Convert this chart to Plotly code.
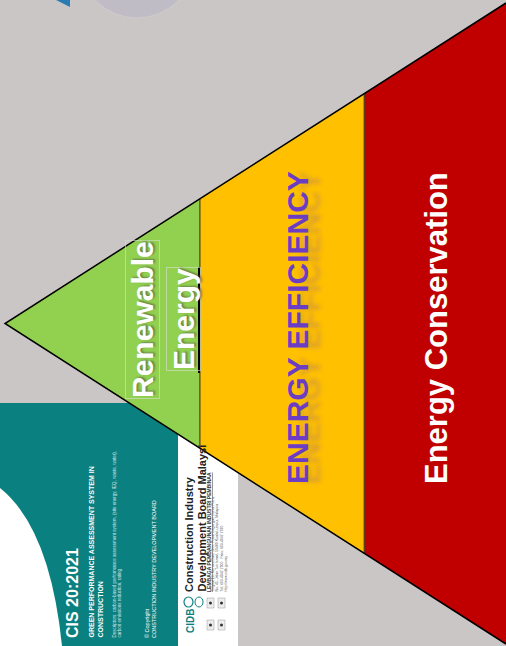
import plotly.graph_objects as go

W, H = 506, 646

# pyramid tiers, apex (left) to base (right)
tier_names = ["Renewable<br>Energy", "ENERGY EFFICIENCY", "Energy Conservation"]
tier_colors = ["#92D050", "#FFC000", "#C00000"]
tier_edges = [0.0, 0.389, 0.717, 1.0]   # share of pyramid depth at each boundary

# cover of the CIS 20:2021 document behind the pyramid
cover_title = "CIS 20:2021"
cover_subtitle = "GREEN PERFORMANCE ASSESSMENT SYSTEM IN<br>CONSTRUCTION"
cover_desc = ("Descriptors: carbon-based performance assessment system, (site energy, IEQ, waste, water),"
              "<br>carbon emissions reduction, rating")
cover_copy = "© Copyright<br>CONSTRUCTION INDUSTRY DEVELOPMENT BOARD"
cidb_lines = ["Construction Industry", "Development Board Malaysi"]
cidb_malay = "LEMBAGA PEMBANGUNAN INDUSTRI PEMBINAA"
cidb_address = ["Tingkat 10, Menara Dato' Onn, Pusat Dagangan Dunia Putra,",
                "No. 45, Jalan Tun Ismail, 50480 Kuala Lumpur, Malaysia",
                "Tel: 603-4047 7000   Faks: 603-4047 7070",
                "http://www.cidb.gov.my"]

FONT = "Liberation Sans, Arial, sans-serif"
apex_x, apex_y = 5, 323.5
depth, half_base = 501, 320.5


def edge(t):
    x = apex_x + t * depth
    return x, apex_y - t * half_base, apex_y + t * half_base


fig = go.Figure()

for i, col in enumerate(tier_colors):
    x0, t0, b0 = edge(tier_edges[i])
    x1, t1, b1 = edge(tier_edges[i + 1])
    fig.add_trace(go.Scatter(x=[x0, x1, x1, x0, x0], y=[t0, t1, b1, b0, t0],
                             mode="lines", fill="toself", fillcolor=col,
                             line=dict(width=0), hoverinfo="skip"))

# separators between tiers
for t in tier_edges[1:-1]:
    x, yt, yb = edge(t)
    fig.add_trace(go.Scatter(x=[x, x], y=[yt, yb], mode="lines",
                             line=dict(color="#4a4020", width=1.2), hoverinfo="skip"))

# pyramid outline
xe, yt, yb = edge(1.0)
fig.add_trace(go.Scatter(x=[xe, apex_x, xe], y=[yt, apex_y, yb], mode="lines",
                         line=dict(color="black", width=1.5), hoverinfo="skip"))

shapes = [
    dict(type="rect", x0=0, x1=178, y0=403, y1=H, fillcolor="#0B8080", line_width=0, layer="below"),
    dict(type="path", path="M 0,488 Q 50,528 62,646 L 0,646 Z", fillcolor="white", line_width=0, layer="below"),
    dict(type="rect", x0=178, x1=238, y0=420, y1=H, fillcolor="white", line_width=0, layer="below"),
    dict(type="circle", x0=79, x1=195, y0=-98, y1=18, fillcolor="#C0BCC5",
         line=dict(color="#CFCCCF", width=1), layer="below"),
    dict(type="path", path="M 56,0 L 70,0 L 70,7 Z", fillcolor="#2A7DB4", line_width=0, layer="below"),
    # CIDB emblem
    dict(type="circle", x0=184, x1=193, y0=597, y1=607, fillcolor="white",
         line=dict(color="#0B8080", width=1.2), layer="below"),
    dict(type="circle", x0=195, x1=203, y0=597, y1=607, fillcolor="white",
         line=dict(color="#0B8080", width=1), layer="below"),
    # black tick on the text box edge
    dict(type="line", x0=199, x1=199, y0=267, y1=373, line=dict(color="black", width=2)),
]
# small icons on the cover
for cx in (207, 218):
    for cy in (598, 620):
        shapes.append(dict(type="rect", x0=cx, x1=cx + 7, y0=cy, y1=cy + 10, fillcolor="#EDEDED",
                           line=dict(color="#999999", width=0.5), layer="below"))
        shapes.append(dict(type="circle", x0=cx + 2, x1=cx + 5, y0=cy + 3.5, y1=cy + 6.5,
                           fillcolor="#333333", line_width=0, layer="below"))

ann = []


def rot(text, x, y, size, color, weight="normal", yanchor="middle", align="center", shadow="none",
        border=None):
    ann.append(dict(text=text, x=x, y=y, xref="x", yref="y", showarrow=False, textangle=-90,
                    xanchor="center", yanchor=yanchor, align=align,
                    font=dict(family=FONT, size=size, color=color, weight=weight, shadow=shadow),
                    bordercolor=border or "rgba(0,0,0,0)", borderwidth=1 if border else 0,
                    borderpad=0))


# pyramid labels
ren, eff, con = tier_names
rot(ren.split("<br>")[0], 142, 320, 30, "white", "bold",
    shadow="1px 2px 2px rgba(60,60,60,0.5)", border="rgba(215,225,205,0.6)")
rot(ren.split("<br>")[1], 183, 319, 30, "white", "bold",
    shadow="1px 2px 2px rgba(60,60,60,0.5)", border="rgba(215,225,205,0.6)")
rot(eff, 297, 328, 30, "#6B3CC4", "bold",
    shadow="0px 12px 4px rgba(120,70,170,0.25)")
rot(con, 436, 328, 31, "white", "bold")

# cover text
rot(cover_title, 72, 638, 16, "white", "bold", yanchor="bottom")
rot(cover_subtitle, 95, 638, 7, "white", "bold", yanchor="bottom", align="left")
rot(cover_desc, 117, 638, 4.5, "#D0E6E6", yanchor="bottom", align="left")
rot(cover_copy, 150, 638, 5.5, "white", yanchor="bottom", align="left")
rot("CIDB", 190, 633, 10, "#0B8080", "bold", yanchor="bottom")
rot(cidb_lines[0], 189, 592, 11, "#222222", "bold", yanchor="bottom")
rot(cidb_lines[1], 201, 592, 11, "#222222", "bold", yanchor="bottom")
rot("<u>" + cidb_malay + "</u>", 209, 592, 5, "#333333", "bold", yanchor="bottom")
rot("<br>".join(cidb_address), 219, 592, 3.5, "#555555", yanchor="bottom", align="left")

fig.update_layout(
    width=W, height=H, margin=dict(l=0, r=0, t=0, b=0),
    paper_bgcolor="#C9C6C5", plot_bgcolor="#C9C6C5",
    showlegend=False, shapes=shapes, annotations=ann,
    xaxis=dict(range=[0, W], visible=False, fixedrange=True),
    yaxis=dict(range=[H, 0], visible=False, fixedrange=True),
)

fig.write_html("out.html", config={"displayModeBar": False},
               post_script="document.body.style.margin='0';document.body.style.overflow='hidden';")
